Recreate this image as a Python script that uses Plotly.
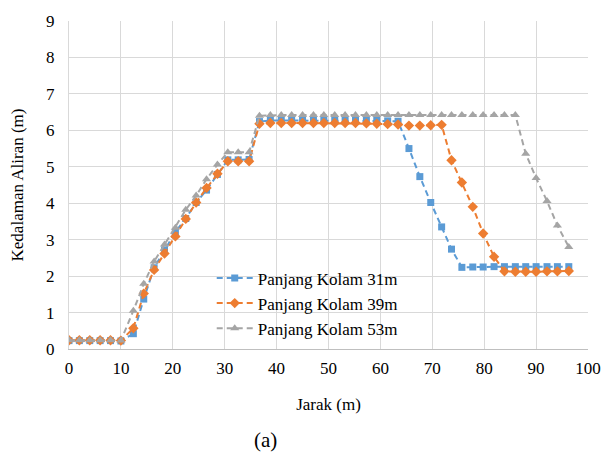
import plotly.graph_objects as go

jarak = [0, 2, 4, 6, 8, 10,
         12.4, 14.4, 16.4, 18.4, 20.5, 22.5, 24.5, 26.5, 28.6, 30.6, 32.6, 34.7,
         36.7, 38.8, 40.9, 42.9, 45.0, 47.1, 49.1, 51.2, 53.2, 55.2, 57.3, 59.3,
         61.4, 63.4, 65.5, 67.6, 69.7, 71.8, 73.7, 75.7, 77.8, 79.8, 81.9, 83.9,
         86.0, 88.0, 90.0, 92.1, 94.1, 96.3]

kolam31 = [0.23, 0.23, 0.23, 0.23, 0.23, 0.22,
           0.42, 1.37, 2.23, 2.72, 3.21, 3.58, 4.02, 4.36, 4.79, 5.19, 5.19, 5.2,
           6.24, 6.27, 6.27, 6.27, 6.27, 6.27, 6.27, 6.27, 6.27, 6.27, 6.27, 6.27, 6.26, 6.25,
           5.5, 4.73, 4.02, 3.35, 2.74, 2.24,
           2.25, 2.25, 2.26, 2.26, 2.26, 2.26, 2.26, 2.26, 2.26, 2.26]

kolam39 = [0.24, 0.24, 0.24, 0.24, 0.24, 0.23,
           0.57, 1.52, 2.17, 2.62, 3.09, 3.57, 4.02, 4.42, 4.81, 5.15, 5.15, 5.15,
           6.18, 6.2, 6.2, 6.2, 6.2, 6.2, 6.2, 6.2, 6.2, 6.2, 6.19, 6.18, 6.17, 6.16,
           6.13, 6.13, 6.14, 6.15,
           5.18, 4.57, 3.9, 3.17, 2.53, 2.13,
           2.12, 2.12, 2.12, 2.13, 2.13, 2.14]

kolam53 = [0.24, 0.24, 0.24, 0.24, 0.24, 0.23,
           1.05, 1.79, 2.4, 2.87, 3.33, 3.82, 4.21, 4.66, 5.06, 5.4, 5.4, 5.4,
           6.4, 6.42, 6.42, 6.42, 6.42, 6.42, 6.42, 6.42, 6.42, 6.42, 6.42, 6.42, 6.42, 6.42,
           6.42, 6.42, 6.42, 6.42, 6.42, 6.42, 6.42, 6.42, 6.42, 6.42, 6.42,
           5.36, 4.69, 4.06, 3.39, 2.8]

names = ["Panjang Kolam 31m", "Panjang Kolam 39m", "Panjang Kolam 53m"]
colors = ["#5B9BD5", "#ED7D31", "#A5A5A5"]
symbols = ["square", "diamond", "triangle-up"]
sizes = [7, 8, 8]

fig = go.Figure()
for ys, nm, c, s, sz in zip([kolam31, kolam39, kolam53], names, colors, symbols, sizes):
    fig.add_trace(go.Scatter(
        x=jarak, y=ys, name=nm, mode="lines+markers",
        line=dict(color=c, width=2, dash="6px,4px"),
        marker=dict(symbol=s, size=sz, color=c),
    ))

font = "Liberation Serif"
fig.update_layout(
    width=613, height=457,
    margin=dict(l=69, r=17, t=15, b=108),
    paper_bgcolor="white", plot_bgcolor="white",
    font=dict(family=font, size=17, color="#000000"),
    showlegend=True,
    legend=dict(x=0.275, y=0.27, xanchor="left", yanchor="top",
                bgcolor="rgba(255,255,255,0)", font=dict(family=font, size=17, color="#000"),
                itemwidth=36, tracegroupgap=0),
    xaxis=dict(range=[0, 100], dtick=10, tick0=0, showgrid=True, gridcolor="#D9D9D9", gridwidth=1,
               zeroline=False, showline=True, linecolor="#BFBFBF", mirror=False, ticks="",
               tickfont=dict(family=font, size=17), ticklabelstandoff=4,
               title=dict(text="Jarak (m)", font=dict(family=font, size=17), standoff=20)),
    yaxis=dict(range=[0, 9], dtick=1, tick0=0, showgrid=True, gridcolor="#D9D9D9", gridwidth=1,
               zeroline=False, showline=True, linecolor="#D9D9D9", ticks="",
               tickfont=dict(family=font, size=17), ticklabelstandoff=10,
               title=dict(text="Kedalaman Aliran (m)", font=dict(family=font, size=17), standoff=18)),
    annotations=[dict(text="(a)", x=0.378, y=-0.276, xref="paper", yref="paper",
                      xanchor="center", yanchor="middle",
                      showarrow=False, font=dict(family=font, size=21, color="#000"))],
)

fig.write_html("out.html")
